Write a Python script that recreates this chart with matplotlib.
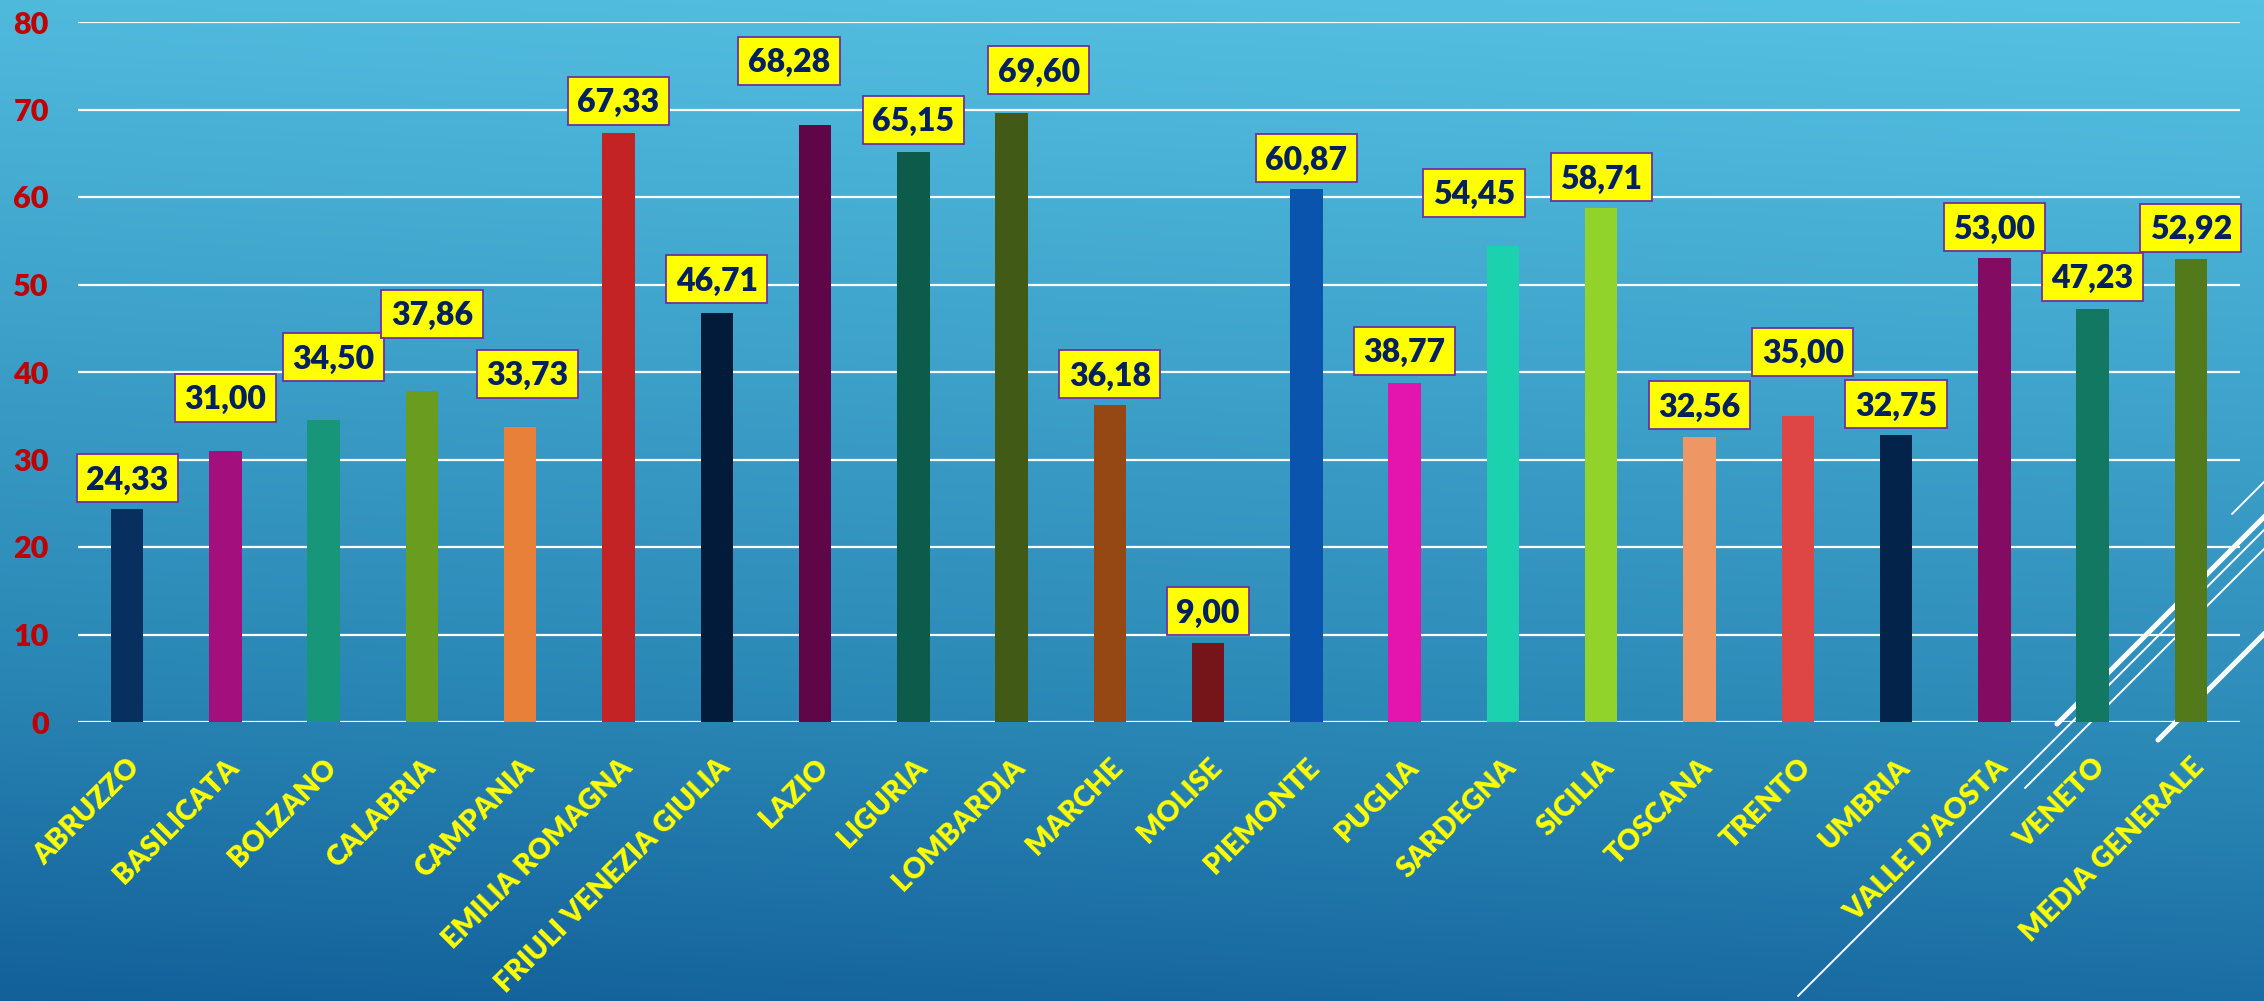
import numpy as np
import matplotlib
matplotlib.use("Agg")
import matplotlib.pyplot as plt
from matplotlib.colors import LinearSegmentedColormap
from matplotlib.patches import Rectangle
from matplotlib.transforms import IdentityTransform

# ---------------- data ----------------
categories = ["ABRUZZO", "BASILICATA", "BOLZANO", "CALABRIA", "CAMPANIA",
              "EMILIA ROMAGNA", "FRIULI VENEZIA GIULIA", "LAZIO", "LIGURIA",
              "LOMBARDIA", "MARCHE", "MOLISE", "PIEMONTE", "PUGLIA", "SARDEGNA",
              "SICILIA", "TOSCANA", "TRENTO", "UMBRIA", "VALLE D'AOSTA", "VENETO",
              "MEDIA GENERALE"]
values = [24.33, 31.00, 34.50, 37.86, 33.73, 67.33, 46.71, 68.28, 65.15, 69.60,
          36.18, 9.00, 60.87, 38.77, 54.45, 58.71, 32.56, 35.00, 32.75, 53.00,
          47.23, 52.92]
value_labels = ["24,33", "31,00", "34,50", "37,86", "33,73", "67,33", "46,71",
                "68,28", "65,15", "69,60", "36,18", "9,00", "60,87", "38,77",
                "54,45", "58,71", "32,56", "35,00", "32,75", "53,00", "47,23",
                "52,92"]
yticks = [0, 10, 20, 30, 40, 50, 60, 70, 80]

# ---------------- style ----------------
bar_colors = ["#072F5F", "#A3107E", "#17967A", "#6A9C20", "#E8803A", "#C42326",
              "#031B3A", "#5E0648", "#0D5B4A", "#415B16", "#954814", "#761519",
              "#0B54AE", "#E414AF", "#1CD1AD", "#91D22B", "#EE9664", "#DE4545",
              "#03234A", "#830B62", "#127862", "#537A1A"]
# label box placement (pixels): gap above bar top, horizontal shift
label_gap_px = [7, 29, 39, 53, 29, 8, 10, 40, 8, 19, 7, 8, 7, 8, 29, 7, 8, 40,
                7, 7, 8, 7]
label_dx_px = [0, 0, 10, 10, 7, 0, 0, -26, 0, 27, 0, 0, 0, 0, -29, 0, 0, 5, 0,
               0, 0, 0]

FONT = ["Lato", "DejaVu Sans"]
plt.rcParams["font.family"] = FONT

W, H, DPI = 2264, 1001, 100
fig = plt.figure(figsize=(W / DPI, H / DPI), dpi=DPI)

# ---------------- background ----------------
bg = fig.add_axes([0, 0, 1, 1], zorder=0)
yy, xx = np.mgrid[0:1:500j, 0:1:900j]
t = np.clip(0.9 * yy + 0.1 * (1 - xx), 0, 1)
cmap = LinearSegmentedColormap.from_list(
    "bg", [(0.0, "#56C2E3"), (0.7, "#2A87B5"), (1.0, "#13609A")])
bg.imshow(t, cmap=cmap, aspect="auto", extent=[0, W, 0, H], origin="upper",
          vmin=0, vmax=1, interpolation="bilinear")
bg.set_xlim(0, W)
bg.set_ylim(0, H)
bg.axis("off")

# decorative diagonal lines (slide theme), in pixel coords (y from top)
deco = [((2057, 724), (2280, 501), 3.6),
        ((1798, 996), (2280, 514), 1.4),
        ((2025, 788), (2280, 533), 1.4),
        ((2158, 740), (2280, 618), 3.6),
        ((2232, 514), (2280, 466), 1.4)]
for (x0, y0), (x1, y1), lw in deco:
    bg.plot([x0, x1], [H - y0, H - y1], color="white", lw=lw,
            solid_capstyle="round")

# ---------------- main axes ----------------
left, right, top, bottom = 78, 2240, 22, 722
ax = fig.add_axes([left / W, (H - bottom) / H, (right - left) / W,
                   (bottom - top) / H], zorder=1)
ax.set_facecolor("none")
x = np.arange(len(categories))
ax.bar(x, values, width=0.33, color=bar_colors, zorder=3)
ax.set_xlim(-0.5, len(categories) - 0.5)
ax.set_ylim(0, 80)
ax.set_yticks(yticks)
ax.set_yticklabels([str(v) for v in yticks])
ax.yaxis.grid(True, color="white", lw=1.6)
ax.set_axisbelow(True)
for s in ax.spines.values():
    s.set_visible(False)
ax.tick_params(axis="both", length=0)
ax.tick_params(axis="y", pad=21)
ax.tick_params(axis="x", pad=23)
for lab in ax.get_yticklabels():
    lab.set_fontsize(22)
    lab.set_fontweight("heavy")
    lab.set_color("#C00000")
ax.set_xticks(x)
ax.set_xticklabels(categories, rotation=45, ha="right", va="top",
                   rotation_mode="anchor", fontsize=20.5, fontweight="heavy",
                   color="#FFFF00")

# ---------------- value labels ----------------
fig.canvas.draw()
renderer = fig.canvas.get_renderer()
fs = 23
cap = 0.7165 * fs * DPI / 72.0
box_h = 48
for i, (v, txt) in enumerate(zip(values, value_labels)):
    px, py = ax.transData.transform((x[i], v))
    cx = px + label_dx_px[i]
    cy = py + label_gap_px[i] + box_h / 2
    tt = fig.text(cx, cy - cap / 2, txt, transform=IdentityTransform(),
                  ha="center", va="baseline", fontsize=fs, fontweight="heavy",
                  color="#002060", zorder=6)
    w = tt.get_window_extent(renderer).width
    bw = w + 19
    rect = Rectangle((cx - bw / 2, cy - box_h / 2), bw, box_h,
                     transform=IdentityTransform(), facecolor="#FFFF00",
                     edgecolor="#7030A0", lw=1.3, zorder=5)
    fig.add_artist(rect)

fig.savefig("out.png", dpi=DPI)
